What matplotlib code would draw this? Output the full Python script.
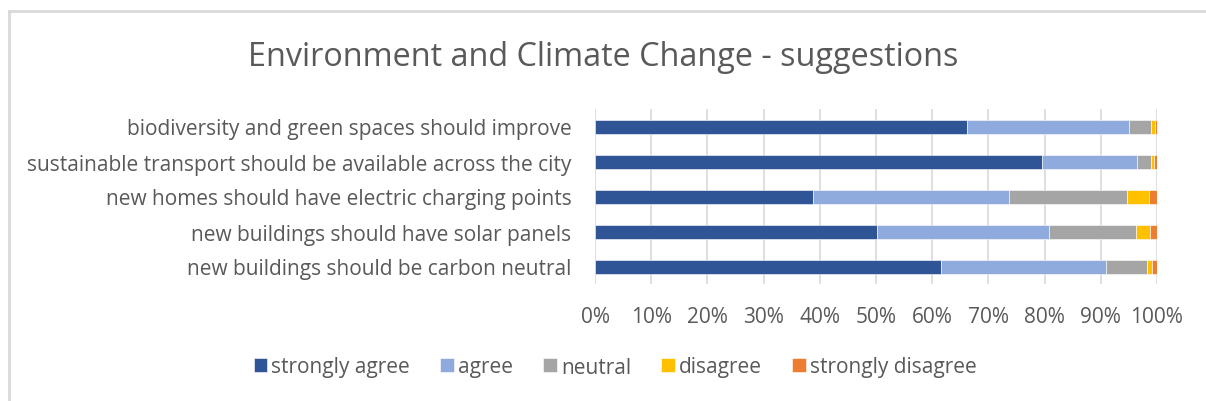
import numpy as np
import matplotlib.pyplot as plt
from matplotlib.lines import Line2D
from matplotlib.ticker import PercentFormatter


PNG_FILE = "out.png"

# ==========================
# data
# ==========================

statements = [
    "biodiversity and green spaces should improve",
    "sustainable transport should be available across the city",
    "new homes should have electric charging points",
    "new buildings should have solar panels",
    "new buildings should be carbon neutral",
]

responses = ["strongly agree", "agree", "neutral", "disagree", "strongly disagree"]

strongly_agree = [66.2, 79.5, 38.8, 50.1, 61.6]
agree = [28.8, 17.0, 34.9, 30.7, 29.4]
neutral = [4.0, 2.4, 21.0, 15.4, 7.2]
disagree = [0.7, 0.6, 3.8, 2.5, 0.9]
strongly_disagree = [0.3, 0.5, 1.5, 1.3, 0.9]

colors = ["#2F5597", "#8FAADC", "#A5A5A5", "#FFC000", "#ED7D31"]

TEXT = "#595959"

plt.rcParams["font.family"] = ["Open Sans", "DejaVu Sans"]

# ==========================
# figure
# ==========================

fig = plt.figure(figsize=(12.06, 4.02), dpi=100)

# chart frame (top and left edges only, the rest runs off the page)
fig.add_artist(Line2D([9 / 1206, 1], [1 - 12 / 402] * 2, transform=fig.transFigure,
                      color="#D9D9D9", linewidth=2))
fig.add_artist(Line2D([9 / 1206] * 2, [0, 1 - 12 / 402], transform=fig.transFigure,
                      color="#D9D9D9", linewidth=2))

ax = fig.add_axes([595 / 1206, 1 - 285 / 402, (1157 - 595) / 1206, 175 / 402])

series = [strongly_agree, agree, neutral, disagree, strongly_disagree]
y = np.arange(len(statements))
left = np.zeros(len(statements))

for name, vals, c in zip(responses, series, colors):
    vals = np.array(vals)
    ax.barh(y, vals, left=left, height=0.4, color=c, label=name,
            edgecolor="white", linewidth=0.4)
    left += vals

ax.set_xlim(0, 100)
ax.set_ylim(len(statements) - 0.5, -0.5)
ax.set_xticks(np.arange(0, 101, 10))
ax.xaxis.set_major_formatter(PercentFormatter(decimals=0))
ax.set_yticks(y)
ax.set_yticklabels(statements)

ax.grid(axis="x", color="#D9D9D9", linewidth=1.2)
ax.set_axisbelow(True)
for s in ax.spines.values():
    s.set_visible(False)
ax.tick_params(length=0, colors=TEXT)
ax.tick_params(axis="x", labelsize=15, pad=16)
ax.tick_params(axis="y", labelsize=15, pad=17)

fig.text(0.5, 1 - 58 / 402, "Environment and Climate Change - suggestions",
         ha="center", va="center", fontsize=23.3, color=TEXT)

fig.legend(loc="center", bbox_to_anchor=(0.5 + 12 / 1206, 1 - 368 / 402), ncol=5,
           frameon=False, fontsize=15, labelcolor=TEXT,
           handlelength=0.65, handleheight=0.65, handletextpad=0.2,
           columnspacing=1.45)

plt.savefig(PNG_FILE, dpi=100)
plt.close()
